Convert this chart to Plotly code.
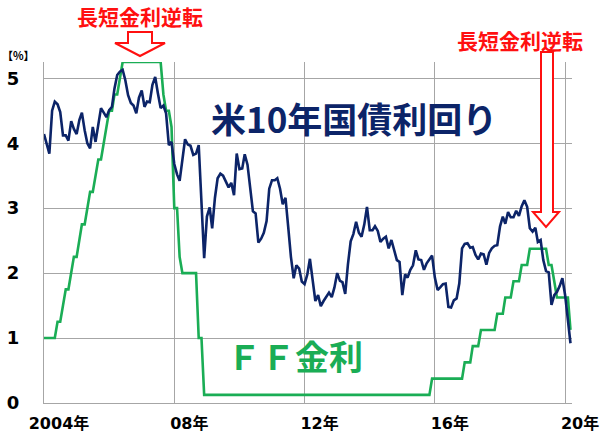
import plotly.graph_objects as go
import pandas as pd

# ---------------- data (month-end values, Jan 2004 - Mar 2020) ----------------
ust10y = [
    # 2004
    4.14, 3.99, 3.84, 4.50, 4.64, 4.60, 4.48, 4.12, 4.12, 4.04, 4.34, 4.22,
    # 2005
    4.14, 4.36, 4.47, 4.20, 4.00, 3.92, 4.25, 4.02, 4.32, 4.54, 4.47, 4.40,
    # 2006
    4.51, 4.56, 4.84, 5.05, 5.10, 5.13, 4.97, 4.74, 4.62, 4.58, 4.46, 4.70,
    # 2007
    4.81, 4.56, 4.64, 4.63, 4.90, 5.02, 4.77, 4.54, 4.58, 4.46, 3.97, 4.02,
    # 2008
    3.68, 3.52, 3.42, 3.75, 4.06, 3.98, 3.96, 3.82, 3.84, 3.97, 2.95, 2.23,
    # 2009
    2.87, 3.01, 2.69, 3.16, 3.46, 3.53, 3.50, 3.40, 3.32, 3.39, 3.20, 3.84,
    # 2010
    3.60, 3.61, 3.83, 3.67, 3.30, 2.95, 2.92, 2.47, 2.53, 2.62, 2.80, 3.30,
    # 2011
    3.43, 3.43, 3.46, 3.30, 3.06, 3.16, 2.72, 2.25, 1.92, 2.12, 2.07, 1.87,
    # 2012
    1.83, 1.98, 2.22, 1.92, 1.57, 1.66, 1.49, 1.57, 1.64, 1.70, 1.63, 1.78,
    # 2013
    2.00, 1.88, 1.86, 1.68, 2.13, 2.49, 2.60, 2.79, 2.62, 2.56, 2.75, 3.02,
    # 2014
    2.66, 2.66, 2.72, 2.65, 2.48, 2.53, 2.56, 2.38, 2.51, 2.35, 2.20, 2.17,
    # 2015
    1.66, 1.98, 1.93, 2.05, 2.12, 2.35, 2.21, 2.20, 2.05, 2.15, 2.21, 2.27,
    # 2016
    1.93, 1.74, 1.78, 1.83, 1.84, 1.48, 1.47, 1.58, 1.61, 1.84, 2.38, 2.45,
    # 2017
    2.46, 2.39, 2.40, 2.28, 2.21, 2.30, 2.29, 2.13, 2.31, 2.38, 2.42, 2.43,
    # 2018
    2.72, 2.87, 2.76, 2.94, 2.86, 2.86, 2.96, 2.88, 3.03, 3.12, 3.02, 2.69,
    # 2019
    2.64, 2.70, 2.48, 2.51, 2.20, 2.03, 2.01, 1.51, 1.66, 1.71, 1.80, 1.92,
    # 2020
    1.66, 1.30, 0.92,
]

ff_rate = [
    # 2004
    1.00, 1.00, 1.00, 1.00, 1.00, 1.25, 1.25, 1.50, 1.75, 1.75, 2.00, 2.25,
    # 2005
    2.25, 2.50, 2.75, 2.75, 3.00, 3.25, 3.25, 3.50, 3.75, 3.75, 4.00, 4.25,
    # 2006
    4.50, 4.50, 4.75, 4.75, 5.00, 5.25, 5.25, 5.25, 5.25, 5.25, 5.25, 5.25,
    # 2007
    5.25, 5.25, 5.25, 5.25, 5.25, 5.25, 5.25, 5.25, 4.75, 4.50, 4.50, 4.25,
    # 2008
    3.00, 3.00, 2.25, 2.00, 2.00, 2.00, 2.00, 2.00, 2.00, 1.00, 1.00, 0.125,
    # 2009
    0.125, 0.125, 0.125, 0.125, 0.125, 0.125, 0.125, 0.125, 0.125, 0.125, 0.125, 0.125,
    # 2010
    0.125, 0.125, 0.125, 0.125, 0.125, 0.125, 0.125, 0.125, 0.125, 0.125, 0.125, 0.125,
    # 2011
    0.125, 0.125, 0.125, 0.125, 0.125, 0.125, 0.125, 0.125, 0.125, 0.125, 0.125, 0.125,
    # 2012
    0.125, 0.125, 0.125, 0.125, 0.125, 0.125, 0.125, 0.125, 0.125, 0.125, 0.125, 0.125,
    # 2013
    0.125, 0.125, 0.125, 0.125, 0.125, 0.125, 0.125, 0.125, 0.125, 0.125, 0.125, 0.125,
    # 2014
    0.125, 0.125, 0.125, 0.125, 0.125, 0.125, 0.125, 0.125, 0.125, 0.125, 0.125, 0.125,
    # 2015
    0.125, 0.125, 0.125, 0.125, 0.125, 0.125, 0.125, 0.125, 0.125, 0.125, 0.125, 0.375,
    # 2016
    0.375, 0.375, 0.375, 0.375, 0.375, 0.375, 0.375, 0.375, 0.375, 0.375, 0.375, 0.625,
    # 2017
    0.625, 0.625, 0.875, 0.875, 0.875, 1.125, 1.125, 1.125, 1.125, 1.125, 1.125, 1.375,
    # 2018
    1.375, 1.375, 1.625, 1.625, 1.625, 1.875, 1.875, 1.875, 2.125, 2.125, 2.125, 2.375,
    # 2019
    2.375, 2.375, 2.375, 2.375, 2.375, 2.375, 2.125, 2.125, 1.875, 1.625, 1.625, 1.625,
    # 2020
    1.625, 1.625, 1.125,
]

x_tick_dates = ["2004-01-01", "2008-01-01", "2012-01-01", "2016-01-01", "2020-01-01"]
x_tick_labels = ["2004年", "08年", "12年", "16年", "20年"]
y_tick_values = [0, 1, 2, 3, 4, 5]
y_tick_labels = ["0", "1", "2", "3", "4", "5"]

months = pd.date_range("2004-01-01", periods=len(ust10y), freq="MS")

# ---------------- styling ----------------
W, H = 600, 434
ML, MR, MT, MB = 44, 28, 62, 31
NAVY = "#0c2468"
GREEN = "#1aad55"
RED = "#ff1010"
GRID = "#a6a6a6"
NUM_FONT = "DejaVu Sans, Noto Sans CJK JP, sans-serif"
JP_FONT = "Noto Sans CJK JP, sans-serif"


def px(X):
    return (X - ML) / (W - ML - MR)


def py(Y):
    return (H - MB - Y) / (H - MT - MB)


fig = go.Figure()
fig.add_trace(go.Scatter(x=months, y=ff_rate, mode="lines",
                         line=dict(color=GREEN, width=2.6), name="FF金利"))
fig.add_trace(go.Scatter(x=months, y=ust10y, mode="lines",
                         line=dict(color=NAVY, width=2.6), name="米10年国債利回り"))


def down_arrow(x0, x1, hx0, hx1, ytop, yhead, ytip):
    xm = (hx0 + hx1) / 2
    pts = [(x0, ytop), (x1, ytop), (x1, yhead), (hx1, yhead), (xm, ytip),
           (hx0, yhead), (x0, yhead)]
    path = "M " + " L ".join(f"{px(a):.5f},{py(b):.5f}" for a, b in pts) + " Z"
    return dict(type="path", xref="paper", yref="paper", path=path,
                line=dict(color=RED, width=2), fillcolor="white", layer="above")


shapes = [
    down_arrow(128, 152, 115, 165, 32, 43, 56),
    down_arrow(541, 553, 533, 559, 52, 212, 227),
]

annotations = [
    dict(text="長短金利逆転", x=px(140), y=py(16), xref="paper", yref="paper",
         showarrow=False, xanchor="center", yanchor="middle",
         font=dict(family=JP_FONT, size=21, color=RED, weight=700)),
    dict(text="長短金利逆転", x=px(520), y=py(40), xref="paper", yref="paper",
         showarrow=False, xanchor="center", yanchor="middle",
         font=dict(family=JP_FONT, size=21, color=RED, weight=700)),
    dict(text="米10年国債利回り", x=px(354), y=py(118), xref="paper", yref="paper",
         showarrow=False, xanchor="center", yanchor="middle",
         font=dict(family=JP_FONT, size=35, color=NAVY, weight=700)),
    dict(text="ＦＦ金利", x=px(295), y=py(355), xref="paper", yref="paper",
         showarrow=False, xanchor="center", yanchor="middle",
         font=dict(family=JP_FONT, size=34, color=GREEN, weight=700)),
    dict(text="【%】", x=px(18), y=py(55), xref="paper", yref="paper",
         showarrow=False, xanchor="center", yanchor="middle",
         font=dict(family=JP_FONT, size=11, color="black", weight=700)),
]

fig.update_layout(
    width=W, height=H,
    margin=dict(l=ML, r=MR, t=MT, b=MB, pad=0, autoexpand=False),
    paper_bgcolor="white", plot_bgcolor="white",
    showlegend=False,
    hovermode=False,
    shapes=shapes,
    annotations=annotations,
    xaxis=dict(
        type="date",
        range=["2004-01-01", "2020-03-18"],
        tickmode="array", tickvals=x_tick_dates, ticktext=x_tick_labels,
        showgrid=True, gridcolor=GRID, gridwidth=1,
        showline=True, linecolor=GRID, linewidth=1,
        zeroline=False, ticks="",
        tickfont=dict(family=NUM_FONT, size=16, color="black", weight=700),
        ticklabelshift=15, ticklabelstandoff=6,
        automargin=False, fixedrange=True,
    ),
    yaxis=dict(
        range=[0, 5.25],
        tickmode="array", tickvals=y_tick_values, ticktext=y_tick_labels,
        showgrid=True, gridcolor=GRID, gridwidth=1,
        showline=True, linecolor=GRID, linewidth=1,
        zeroline=False, ticks="",
        tickfont=dict(family=NUM_FONT, size=18, color="black", weight=700),
        ticklabelstandoff=20,
        automargin=False, fixedrange=True,
    ),
)

fig.write_html(
    "out.html",
    config={"displayModeBar": False, "staticPlot": True},
    post_script="document.body.style.margin='0';document.body.style.overflow='hidden';",
)
